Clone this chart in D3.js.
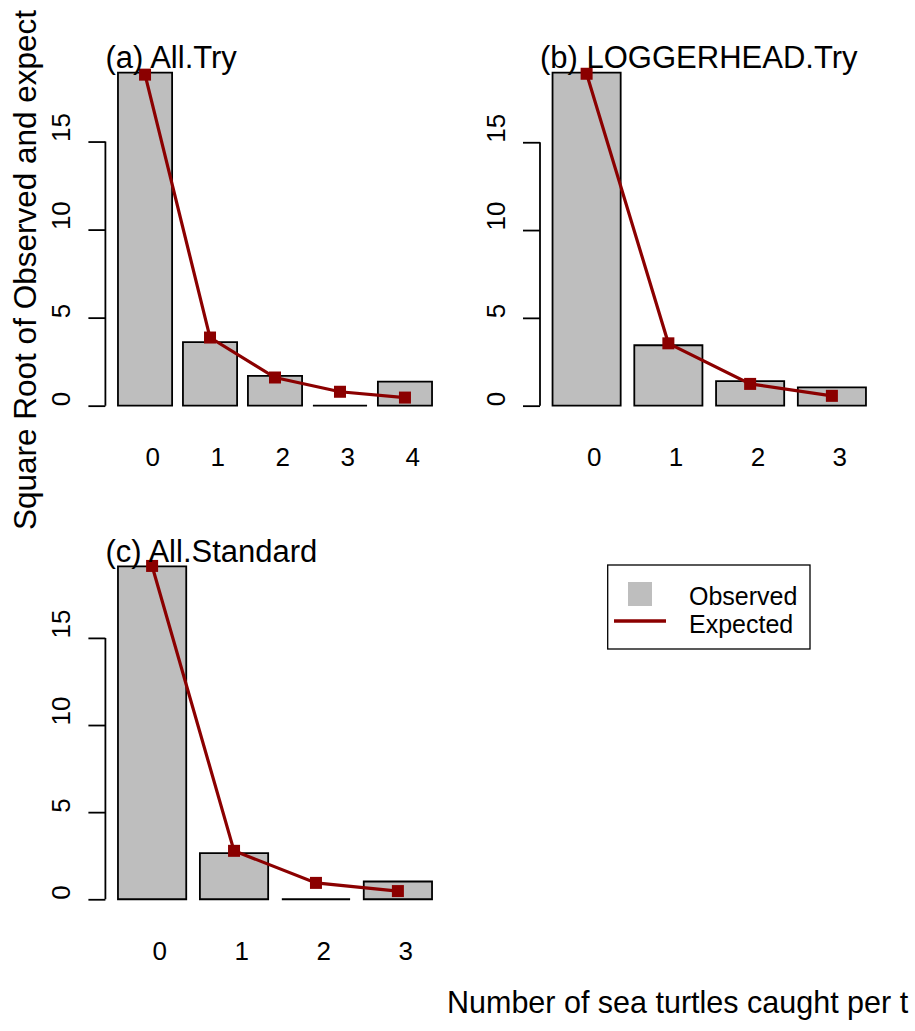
<!DOCTYPE html>
<html>
<head>
<meta charset="utf-8">
<script src="https://cdn.jsdelivr.net/npm/d3@7"></script>
<style>
	body { margin: 0; background: #fff; }
	svg { display: block; font-family: 'Liberation Sans', Arial, Helvetica, sans-serif; }
</style>
</head>
<body>
<div id="chart"></div>
<script>
// square root of observed / expected frequencies, per panel
const allTryCounts = ['0', '1', '2', '3', '4'];
const allTryObserved = [18.92, 3.61, 1.69, 0, 1.37];
const allTryExpected = [18.8, 3.87, 1.6, 0.79, 0.46];

const loggerheadCounts = ['0', '1', '2', '3'];
const loggerheadObserved = [18.97, 3.44, 1.4, 1.04];
const loggerheadExpected = [18.9, 3.55, 1.24, 0.56];

const standardCounts = ['0', '1', '2', '3'];
const standardObserved = [19.1, 2.65, 0, 1.02];
const standardExpected = [19.13, 2.78, 0.94, 0.47];

const panelTitles = ['(a) All.Try', '(b) LOGGERHEAD.Try', '(c) All.Standard'];
const yTicks = [0, 5, 10, 15];
const legendLabels = ['Observed', 'Expected'];
const xLabel = 'Number of sea turtles caught per t';
const yLabel = 'Square Root of Observed and expect';

const width = 915, height = 1031;
const barFill = '#bebebe', lineColour = '#8b0000';

// plot regions (R mfrow 2x2)
const regions = [
	{ left: 105.4, right: 444.6, top: 59.2, bottom: 419 },
	{ left: 540, right: 878.5, top: 59.2, bottom: 419 },
	{ left: 105.4, right: 444.6, top: 552.6, bottom: 912.6 }
];

const svg = d3.select('#chart')
	.append('svg')
	.attr('width', width)
	.attr('height', height);

svg.append('rect').attr('width', width).attr('height', height).attr('fill', '#fff');

function drawPanel(box, cats, observed, expected, title) {
	const g = svg.append('g');
	const n = cats.length;
	// barplot x layout: width 1, space 0.2, 4% axis expansion
	const lo = 0.2, hi = 1.2 * n, pad = 0.04 * (hi - lo);
	const x = d3.scaleLinear().domain([lo - pad, hi + pad]).range([box.left, box.right]);
	const M = d3.max(observed.concat(expected));
	const y = d3.scaleLinear().domain([-0.04 * M, 1.04 * M]).range([box.bottom, box.top]);

	const centre = function (i) { return x(0.7 + 1.2 * i); };

	// bars (paths so a zero bar still shows as a line)
	g.append('g')
		.selectAll('path')
		.data(observed)
		.join('path')
		.attr('d', function (d, i) {
			const x0 = x(0.2 + 1.2 * i), x1 = x(1.2 + 1.2 * i);
			return 'M' + x0 + ',' + y(0) + 'H' + x1 + 'V' + y(d) + 'H' + x0 + 'Z';
		})
		.attr('fill', barFill)
		.attr('stroke', '#000')
		.attr('stroke-width', 1.8);

	// y axis (par adj = 0, so labels start at the tick)
	const yAxis = g.append('g')
		.attr('transform', 'translate(' + box.left + ',0)')
		.call(d3.axisLeft(y).tickValues(yTicks).tickSize(17).tickSizeOuter(0));
	yAxis.select('.domain').remove();
	yAxis.append('line')
		.attr('y1', y(yTicks[0]))
		.attr('y2', y(yTicks[yTicks.length - 1]))
		.attr('stroke', '#000')
		.attr('stroke-width', 1.8);
	yAxis.selectAll('.tick line').attr('stroke-width', 1.8);
	yAxis.selectAll('.tick text')
		.attr('x', null)
		.attr('dy', null)
		.attr('fill', '#000')
		.attr('font-size', 26)
		.attr('font-family', null)
		.attr('text-anchor', 'start')
		.attr('transform', 'translate(-35,0) rotate(-90)');

	// x category labels, left aligned at bar centres
	const xAxis = g.append('g')
		.attr('transform', 'translate(0,' + box.bottom + ')')
		.call(d3.axisBottom(x)
			.tickValues(d3.range(n).map(function (i) { return 0.7 + 1.2 * i; }))
			.tickFormat(function (d, i) { return cats[i]; })
			.tickSize(0));
	xAxis.select('.domain').remove();
	xAxis.selectAll('.tick text')
		.attr('y', 47)
		.attr('dy', null)
		.attr('fill', '#000')
		.attr('font-size', 26)
		.attr('font-family', null)
		.attr('text-anchor', 'start');

	// expected line + points
	const line = d3.line()
		.x(function (d, i) { return centre(i); })
		.y(function (d) { return y(d); });
	g.append('path')
		.datum(expected)
		.attr('d', line)
		.attr('fill', 'none')
		.attr('stroke', lineColour)
		.attr('stroke-width', 3.2);
	g.append('g')
		.selectAll('rect')
		.data(expected)
		.join('rect')
		.attr('x', function (d, i) { return centre(i) - 6; })
		.attr('y', function (d) { return y(d) - 6; })
		.attr('width', 12)
		.attr('height', 12)
		.attr('fill', lineColour);

	// panel title
	g.append('text')
		.attr('x', box.left)
		.attr('y', box.top + 9)
		.attr('font-size', 31)
		.text(title);
}

drawPanel(regions[0], allTryCounts, allTryObserved, allTryExpected, panelTitles[0]);
drawPanel(regions[1], loggerheadCounts, loggerheadObserved, loggerheadExpected, panelTitles[1]);
drawPanel(regions[2], standardCounts, standardObserved, standardExpected, panelTitles[2]);

// legend
const legend = svg.append('g');
legend.append('rect')
	.attr('x', 607.7).attr('y', 565)
	.attr('width', 202.3).attr('height', 84)
	.attr('fill', '#fff')
	.attr('stroke', '#000')
	.attr('stroke-width', 1.3);
legend.append('rect')
	.attr('x', 628).attr('y', 582)
	.attr('width', 24).attr('height', 24)
	.attr('fill', barFill);
legend.append('line')
	.attr('x1', 614).attr('x2', 666)
	.attr('y1', 621).attr('y2', 621)
	.attr('stroke', lineColour)
	.attr('stroke-width', 3.5);
legend.selectAll('text.lab')
	.data(legendLabels)
	.join('text')
	.attr('class', 'lab')
	.attr('x', 689)
	.attr('y', function (d, i) { return 605 + i * 28; })
	.attr('font-size', 25)
	.text(function (d) { return d; });

// outer axis labels (clipped by the device in the original)
svg.append('text')
	.attr('x', 447)
	.attr('y', 1013)
	.attr('font-size', 30.5)
	.text(xLabel);
svg.append('text')
	.attr('transform', 'translate(36,530) rotate(-90)')
	.attr('font-size', 31.5)
	.text(yLabel);
</script>
</body>
</html>
